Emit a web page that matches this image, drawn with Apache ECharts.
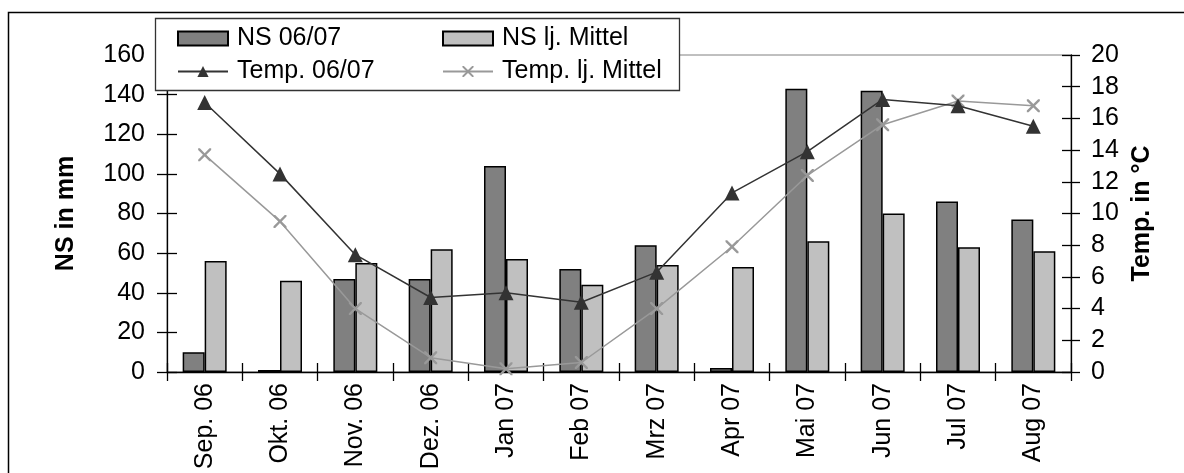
<!DOCTYPE html>
<html>
<head>
<meta charset="utf-8">
<script src="https://cdn.jsdelivr.net/npm/echarts@6/dist/echarts.min.js"></script>
<style>
html,body{margin:0;padding:0;background:#fff;}
#c{width:1184px;height:473px;}
</style>
</head>
<body>
<div id="c"></div>
<script>
const categories = ['Sep. 06','Okt. 06','Nov. 06','Dez. 06','Jan 07','Feb 07','Mrz 07','Apr 07','Mai 07','Jun 07','Jul 07','Aug 07'];
const ns0607 = [10, 1, 47, 47, 104, 52, 64, 2, 143, 142, 86, 77];
const nsMittel = [56, 46, 55, 62, 57, 44, 54, 53, 66, 80, 63, 61];
const temp0607 = [17.0, 12.5, 7.4, 4.7, 5.0, 4.4, 6.3, 11.3, 13.9, 17.2, 16.8, 15.5];
const tempMittel = [13.7, 9.5, 4.0, 0.9, 0.2, 0.6, 4.0, 7.9, 12.4, 15.6, 17.1, 16.8];
const leftTicks = {min: 0, max: 160, interval: 20};
const rightTicks = {min: 0, max: 20, interval: 2};

const FONT = 'Liberation Sans, Arial, sans-serif';
const FS = 25;
const xMark = 'path://M0,0 L1.3,0 L5,3.7 L8.7,0 L10,0 L10,1.3 L6.3,5 L10,8.7 L10,10 L8.7,10 L5,6.3 L1.3,10 L0,10 L0,8.7 L3.7,5 L0,1.3 Z';

const chart = echarts.init(document.getElementById('c'), null, {renderer: 'canvas'});
const tickStyle = {color: '#000', width: 1.3};
const axLine = {show: true, lineStyle: {color: '#000', width: 1.3}};

chart.setOption({
  animation: false,
  backgroundColor: '#fff',
  textStyle: {fontFamily: FONT},
  graphic: [
    {type: 'rect', left: 6, top: 10, shape: {x: 0, y: 0, width: 1300, height: 600}, silent: true,
     style: {fill: 'none', stroke: '#000', lineWidth: 1.5}, z: -10},
    {type: 'rect', shape: {x: 155.5, y: 18.5, width: 524, height: 72}, silent: true,
     style: {fill: '#fff', stroke: '#333', lineWidth: 1.3}, z: 10}
  ],
  grid: {left: 167, right: 113, top: 55, bottom: 101, show: true, borderColor: '#808080', borderWidth: 1, backgroundColor: 'transparent'},
  legend: [
    {data: [{name: 'NS 06/07', icon: 'rect'}, 'Temp. 06/07'], orient: 'vertical', left: 172, top: 21, itemWidth: 50, itemHeight: 14, itemGap: 8, z: 20,
     textStyle: {fontSize: FS, color: '#000', fontFamily: FONT, padding: [0, 0, 0, 4]}},
    {data: [{name: 'NS lj. Mittel', icon: 'rect'}, 'Temp. lj. Mittel'], orient: 'vertical', left: 437, top: 21, itemWidth: 50, itemHeight: 14, itemGap: 8, z: 20,
     textStyle: {fontSize: FS, color: '#000', fontFamily: FONT, padding: [0, 0, 0, 4]}}
  ],
  xAxis: [
    {type: 'category', data: categories, position: 'bottom', boundaryGap: true,
     axisLine: axLine, axisTick: {show: true, inside: false, length: 9, lineStyle: tickStyle, alignWithLabel: false},
     axisLabel: {rotate: 90, fontSize: FS, color: '#000', margin: 11, fontFamily: FONT, interval: 0}},
    {type: 'category', data: categories, position: 'bottom', boundaryGap: true,
     axisLine: {show: false}, axisTick: {show: true, inside: true, length: 9, lineStyle: tickStyle},
     axisLabel: {show: false}}
  ],
  yAxis: [
    {type: 'value', position: 'left', min: leftTicks.min, max: leftTicks.max, interval: leftTicks.interval,
     name: 'NS in mm', nameLocation: 'middle', nameRotate: 90, nameGap: 88,
     nameTextStyle: {fontSize: FS, fontWeight: 'bold', color: '#000', fontFamily: FONT},
     axisLine: axLine, axisTick: {show: true, length: 10, lineStyle: tickStyle},
     axisLabel: {fontSize: FS, color: '#000', margin: 22, fontFamily: FONT},
     splitLine: {show: false}},
    {type: 'value', position: 'right', min: rightTicks.min, max: rightTicks.max, interval: rightTicks.interval,
     name: 'Temp. in °C', nameLocation: 'middle', nameRotate: 90, nameGap: 58,
     nameTextStyle: {fontSize: FS, fontWeight: 'bold', color: '#000', fontFamily: FONT},
     axisLine: axLine, axisTick: {show: true, length: 9, lineStyle: tickStyle},
     axisLabel: {fontSize: FS, color: '#000', margin: 20, fontFamily: FONT},
     splitLine: {show: false}},
    {type: 'value', position: 'left', min: leftTicks.min, max: leftTicks.max, interval: leftTicks.interval,
     axisLine: {show: false}, axisTick: {show: true, inside: true, length: 10, lineStyle: tickStyle},
     axisLabel: {show: false}, splitLine: {show: false}},
    {type: 'value', position: 'right', min: rightTicks.min, max: rightTicks.max, interval: rightTicks.interval,
     axisLine: {show: false}, axisTick: {show: true, inside: true, length: 9, lineStyle: tickStyle},
     axisLabel: {show: false}, splitLine: {show: false}}
  ],
  series: [
    {name: 'NS 06/07', type: 'bar', data: ns0607, xAxisIndex: 0, yAxisIndex: 0, barWidth: 22, barGap: '0%',
     itemStyle: {color: '#808080', borderColor: '#000', borderWidth: 1.5}},
    {name: 'NS lj. Mittel', type: 'bar', data: nsMittel, xAxisIndex: 0, yAxisIndex: 0, barWidth: 22, barGap: '0%',
     itemStyle: {color: '#c0c0c0', borderColor: '#000', borderWidth: 1.5}},
    {name: 'Temp. 06/07', type: 'line', data: temp0607, xAxisIndex: 0, yAxisIndex: 1, z: 5,
     symbol: 'triangle', symbolSize: 15, lineStyle: {color: '#333', width: 1.5},
     itemStyle: {color: '#333', borderWidth: 0}},
    {name: 'Temp. lj. Mittel', type: 'line', data: tempMittel, xAxisIndex: 0, yAxisIndex: 1, z: 4,
     symbol: xMark, symbolSize: 13, lineStyle: {color: '#999', width: 1.5},
     itemStyle: {color: '#999', borderWidth: 0}}
  ]
});
</script>
</body>
</html>
